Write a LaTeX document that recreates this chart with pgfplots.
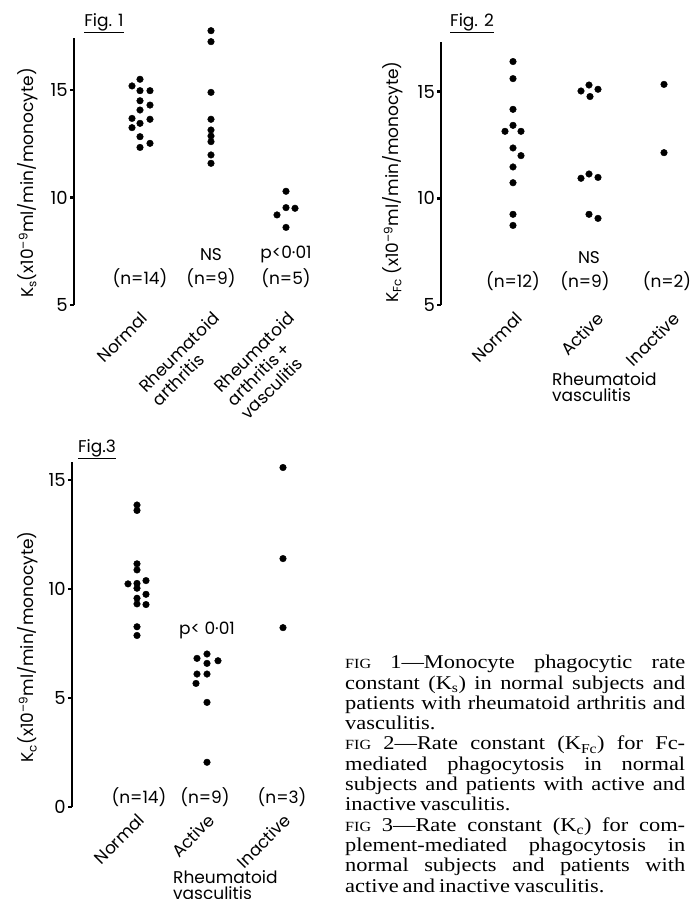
\documentclass[border=0pt]{standalone}
\usepackage{fontspec}
\setmainfont{Poppins}
\newfontfamily\capfont[FakeStretch=1.15]{Liberation Serif}
\usepackage{pgfplots}
\pgfplotsset{compat=1.18}
\pgfplotsset{
  dots/.style={only marks, mark=*, mark size=3.3pt, black, mark options={fill=black, draw=black, solid}},
  myax/.style={
    scale only axis,
    axis x line=bottom,
    axis y line=left,
    axis line style={-},
    x axis line style={draw=none},
    y axis line style={line width=2.6pt},
    xtick style={draw=none},
    ytick style={line width=2.4pt, black},
    tick align=outside,
    major tick length=4pt,
    font=\fontsize{17}{19}\selectfont,
    /pgf/number format/assume math mode=true,
    xticklabel style={rotate=45, anchor=north east, align=left, inner sep=1pt, font=\fontsize{17}{19}\selectfont},
    yticklabel style={inner sep=2pt, font=\fontsize{18}{20}\selectfont},
    ylabel style={anchor=center},
    clip=false,
  }
}
\newcommand\jl[1]{\hbox to 340pt{#1}}
\newcommand\nl[1]{\hbox{#1}}
\newcommand\smc[1]{{\fontsize{14}{12}\selectfont #1}}
\begin{document}
\begin{tikzpicture}
\useasboundingbox (0,0) rectangle (690pt,-899pt);
% ---------------- Fig 1
\begin{axis}[myax, at={(74pt,-305pt)}, anchor=south west,
  width=248pt, height=267pt, xmin=74, xmax=322, ymin=5, ymax=17.42,
  ytick={5,10,15},
  xtick={140,211,286},
  xticklabels={Normal,{Rheumatoid\\arthritis},{Rheumatoid\\arthritis +\\vasculitis}},
  ylabel={K\textsubscript{s}(x10\textsuperscript{–9}ml/min/monocyte)},
  ylabel style={at={(axis description cs:-0.1855,0.457)}}]
\addplot[dots] coordinates {(140,15.50) (132,15.19) (140,14.97) (150,14.97) (140,14.50) (150,14.30) (140,14.07) (132,13.68) (150,13.64) (140,13.45) (132,13.25) (140,12.83) (140,12.33) (150,12.52)};
\addplot[dots] coordinates {(211,17.76) (211,17.25) (211,14.89) (211,13.64) (211,13.14) (211,12.86) (211,12.60) (211,11.98) (211,11.59)};
\addplot[dots] coordinates {(286,10.29) (277,9.19) (286,9.53) (295,9.50) (286,8.61)};
\node at (axis cs:211,7.33) {NS};
\node at (axis cs:286,7.33) {p<0·01};
\node at (axis cs:140,6.24) {(n=14)};
\node at (axis cs:211,6.24) {(n=9)};
\node at (axis cs:286,6.24) {(n=5)};
\end{axis}
\node at (104pt,-23pt) {\fontsize{17}{19}\selectfont\underline{Fig. 1}};
% ---------------- Fig 2
\begin{axis}[myax, at={(441pt,-305pt)}, anchor=south west,
  width=247pt, height=263.3pt, xmin=441, xmax=688, ymin=5, ymax=17.34,
  ytick={5,10,15},
  xtick={515,596,672},
  xticklabels={Normal,Active,Inactive},
  ylabel={K\textsubscript{Fc} (x10\textsuperscript{–9}ml/min/monocyte)},
  ylabel style={at={(axis description cs:-0.194,0.467)}}]
\addplot[dots] coordinates {(513,16.41) (513,15.61) (513,14.17) (513,13.42) (505,13.14) (521,13.14) (513,12.36) (521,12.0) (513,11.47) (513,10.73) (513,9.25) (513,8.73)};
\addplot[dots] coordinates {(581,15.03) (589,15.31) (598,15.11) (590,14.77) (581,10.94) (589,11.14) (598,10.98) (589,9.25) (598,9.06)};
\addplot[dots] coordinates {(664,15.34) (664,12.14)};
\node at (axis cs:589,7.22) {NS};
\node at (axis cs:513,6.12) {(n=12)};
\node at (axis cs:585,6.12) {(n=9)};
\node at (axis cs:667,6.12) {(n=2)};
\node[anchor=north west, align=left, inner sep=0pt, font=\fontsize{17}{16}\selectfont] at (axis cs:552,1.86) {Rheumatoid\\vasculitis};
\end{axis}
\node at (472pt,-23pt) {\fontsize{17}{19}\selectfont\underline{Fig. 2}};
% ---------------- Fig 3
\begin{axis}[myax, at={(72pt,-806.7pt)}, anchor=south west,
  width=248pt, height=344.4pt, xmin=72, xmax=320, ymin=0, ymax=15.81,
  ytick={0,5,10,15},
  xtick={137,207,283},
  xticklabels={Normal,Active,Inactive},
  ylabel={K\textsubscript{c}(x10\textsuperscript{–9}ml/min/monocyte)},
  ylabel style={at={(axis description cs:-0.177,0.464)}}]
\addplot[dots] coordinates {(137,13.85) (137,13.6) (137,11.15) (137,10.87) (128,10.23) (137,10.25) (137,10.03) (146,10.38) (146,9.75) (137,9.57) (137,9.31) (146,9.28) (137,8.26) (137,7.86)};
\addplot[dots] coordinates {(207,7.01) (197,6.81) (218,6.70) (207,6.58) (197,6.09) (207,6.09) (196,5.66) (207,4.79) (207,2.04)};
\addplot[dots] coordinates {(283,15.57) (283,11.39) (283,8.22)};
\node at (axis cs:207,8.11) {p< 0·01};
\node at (axis cs:139,0.46) {(n=14)};
\node at (axis cs:205,0.46) {(n=9)};
\node at (axis cs:282,0.46) {(n=3)};
\node[anchor=north west, align=left, inner sep=0pt, font=\fontsize{17}{16}\selectfont] at (axis cs:173,-2.9) {Rheumatoid\\vasculitis};
\end{axis}
\node at (97pt,-449pt) {\fontsize{17}{19}\selectfont\underline{Fig.3}};
% ---------------- Caption
\node[anchor=north west, inner sep=0pt] at (345pt,-655pt) {%
\vbox{\capfont\fontsize{19.5}{20.3}\selectfont
\spaceskip=4pt plus 40pt minus 2pt
\jl{\smc{FIG} 1—Monocyte phagocytic rate}
\jl{constant (K\textsubscript{s}) in normal subjects and}
\jl{patients with rheumatoid arthritis and}
\nl{vasculitis.}
\jl{\smc{FIG} 2—Rate constant (K\textsubscript{Fc}) for Fc-}
\jl{mediated phagocytosis in normal}
\jl{subjects and patients with active and}
\nl{inactive vasculitis.}
\jl{\smc{FIG} 3—Rate constant (K\textsubscript{c}) for com-}
\jl{plement-mediated phagocytosis in}
\jl{normal subjects and patients with}
\nl{active and inactive vasculitis.}}};
\end{tikzpicture}
\end{document}
